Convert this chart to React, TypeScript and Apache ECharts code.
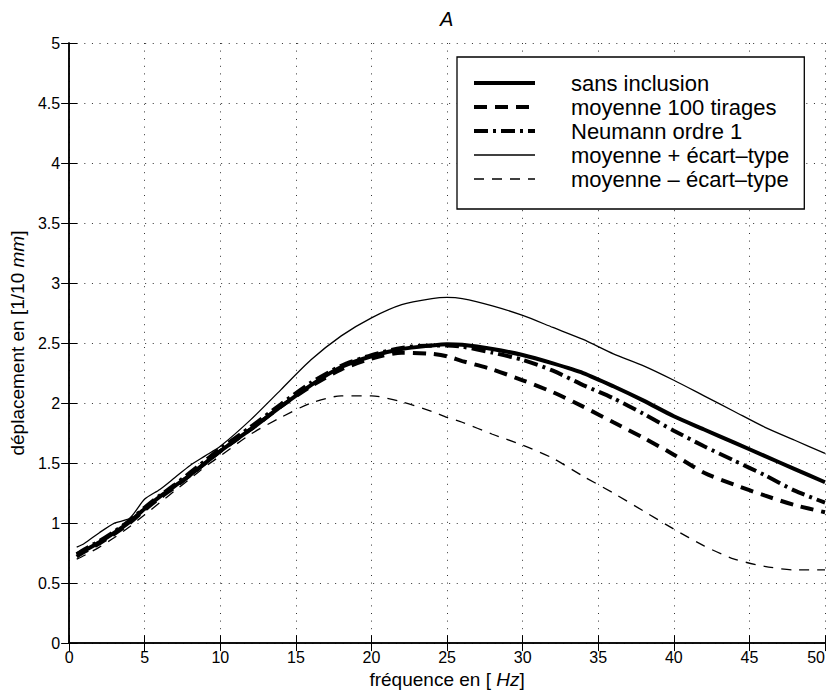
import React, { useEffect, useRef } from "react";
import * as echarts from "echarts";

const F = '"Liberation Sans", Arial, Helvetica, sans-serif';

const freq = [0.5, 1, 2, 3, 4, 5, 6, 7, 8, 9, 10, 12, 14, 16, 18, 20, 22, 24, 25, 26, 28, 30, 32, 34, 36, 38, 40, 42, 44, 46, 48, 50];

const sansInclusion = [0.74, 0.77, 0.84, 0.92, 1.01, 1.12, 1.22, 1.31, 1.40, 1.50, 1.60, 1.78, 1.97, 2.15, 2.30, 2.39, 2.45, 2.48, 2.49, 2.485, 2.45, 2.40, 2.33, 2.25, 2.14, 2.02, 1.89, 1.78, 1.67, 1.56, 1.45, 1.34];
const moyenne100 = [0.72, 0.76, 0.83, 0.91, 1.00, 1.11, 1.21, 1.30, 1.40, 1.50, 1.60, 1.78, 1.97, 2.14, 2.28, 2.37, 2.42, 2.41, 2.39, 2.35, 2.28, 2.19, 2.09, 1.97, 1.84, 1.71, 1.57, 1.42, 1.32, 1.23, 1.15, 1.09];
const neumann1 = [0.74, 0.78, 0.85, 0.93, 1.02, 1.13, 1.23, 1.32, 1.42, 1.52, 1.62, 1.80, 1.99, 2.17, 2.31, 2.40, 2.46, 2.48, 2.48, 2.47, 2.42, 2.36, 2.27, 2.15, 2.04, 1.91, 1.77, 1.64, 1.52, 1.40, 1.27, 1.17];
const moyennePlus = [0.80, 0.83, 0.92, 1.00, 1.04, 1.20, 1.28, 1.38, 1.48, 1.56, 1.64, 1.86, 2.11, 2.36, 2.56, 2.71, 2.82, 2.87, 2.88, 2.87, 2.81, 2.73, 2.63, 2.53, 2.41, 2.31, 2.19, 2.06, 1.93, 1.80, 1.69, 1.58];
const moyenneMoins = [0.70, 0.73, 0.80, 0.88, 0.97, 1.07, 1.17, 1.27, 1.37, 1.47, 1.56, 1.74, 1.88, 2.00, 2.06, 2.06, 2.01, 1.93, 1.88, 1.84, 1.74, 1.65, 1.54, 1.39, 1.25, 1.10, 0.95, 0.81, 0.70, 0.64, 0.61, 0.61];

const seriesNames = [
  "sans inclusion",
  "moyenne 100 tirages",
  "Neumann ordre 1",
  "moyenne + écart–type",
  "moyenne – écart–type",
];

const pair = (vals: number[]) => freq.map((f, i) => [f, vals[i]]);

export default function App() {
  const ref = useRef<HTMLDivElement>(null);
  useEffect(() => {
    if (!ref.current) return;
    const chart = echarts.init(ref.current, null, { renderer: "svg" });
    const axisLine = { show: true, lineStyle: { color: "#000", width: 1.5 } };
    const axisTick = { show: true, inside: true, length: 8, lineStyle: { color: "#000", width: 1 } };
    const split = { show: true, lineStyle: { type: [1, 6.6], color: "#333", width: 1 } };
    const mk = (name: string, vals: number[], width: number, type: any, z: number) => ({
      name,
      type: "line",
      data: pair(vals),
      symbol: "none",
      smooth: 0.25,
      z,
      lineStyle: { color: "#000", width, type, cap: "butt" },
      itemStyle: { color: "#000" },
    });
    chart.setOption({
      animation: false,
      title: {
        text: "A",
        left: 440,
        top: 9,
        padding: 0,
        textStyle: { fontStyle: "italic", fontWeight: "normal", fontSize: 20, fontFamily: F, color: "#000" },
      },
      grid: { left: 63, right: 11, top: 43, bottom: 50, containLabel: false },
      legend: {
        orient: "vertical",
        left: 457,
        top: 57,
        padding: [15, 15, 19, 15],
        itemWidth: 61,
        itemHeight: 20,
        itemGap: 2,
        backgroundColor: "#fff",
        borderColor: "#000",
        borderWidth: 1.3,
        borderRadius: 0,
        selectedMode: false,
        textStyle: { fontSize: 22, fontFamily: F, color: "#000", padding: [0, 0, 0, 31] },
        lineStyle: { width: "inherit" },
        itemStyle: { color: "rgba(0,0,0,0)", borderWidth: 0, opacity: 0 },
        data: seriesNames,
      },
      xAxis: [
        {
          type: "value",
          min: 0,
          max: 50,
          interval: 5,
          position: "bottom",
          name: "fréquence en [ {i|Hz}]",
          nameLocation: "middle",
          nameGap: 25,
          nameTextStyle: { fontSize: 19, fontFamily: F, color: "#000", rich: { i: { fontStyle: "italic", fontSize: 19, fontFamily: F, color: "#000" } } },
          axisLine,
          axisTick,
          axisLabel: { fontSize: 16, fontFamily: F, color: "#000", margin: 6, alignMaxLabel: "right" },
          splitLine: split,
        },
        {
          type: "value",
          min: 0,
          max: 50,
          interval: 5,
          position: "top",
          axisLine,
          axisTick,
          axisLabel: { show: false },
          splitLine: { show: false },
        },
      ],
      yAxis: [
        {
          type: "value",
          min: 0,
          max: 5,
          interval: 0.5,
          position: "left",
          name: "déplacement en [1/10 {i|mm}]",
          nameLocation: "middle",
          nameGap: 29,
          nameTextStyle: { fontSize: 19, fontFamily: F, color: "#000", rich: { i: { fontStyle: "italic", fontSize: 19, fontFamily: F, color: "#000" } } },
          axisLine,
          axisTick,
          axisLabel: { fontSize: 16, fontFamily: F, color: "#000", margin: 9 },
          splitLine: split,
        },
        {
          type: "value",
          min: 0,
          max: 5,
          interval: 0.5,
          position: "right",
          axisLine,
          axisTick,
          axisLabel: { show: false },
          splitLine: { show: false },
        },
      ],
      series: [
        mk(seriesNames[3], moyennePlus, 1.3, "solid", 2),
        mk(seriesNames[4], moyenneMoins, 1.3, [10, 8], 2),
        mk(seriesNames[0], sansInclusion, 4, "solid", 3),
        mk(seriesNames[1], moyenne100, 4, [13, 8], 3),
        mk(seriesNames[2], neumann1, 4, [14, 5, 3, 5], 3),
      ],
    });
    return () => chart.dispose();
  }, []);
  return <div ref={ref} style={{ width: 836, height: 694, position: "absolute", left: 0, top: 0 }} />;
}
